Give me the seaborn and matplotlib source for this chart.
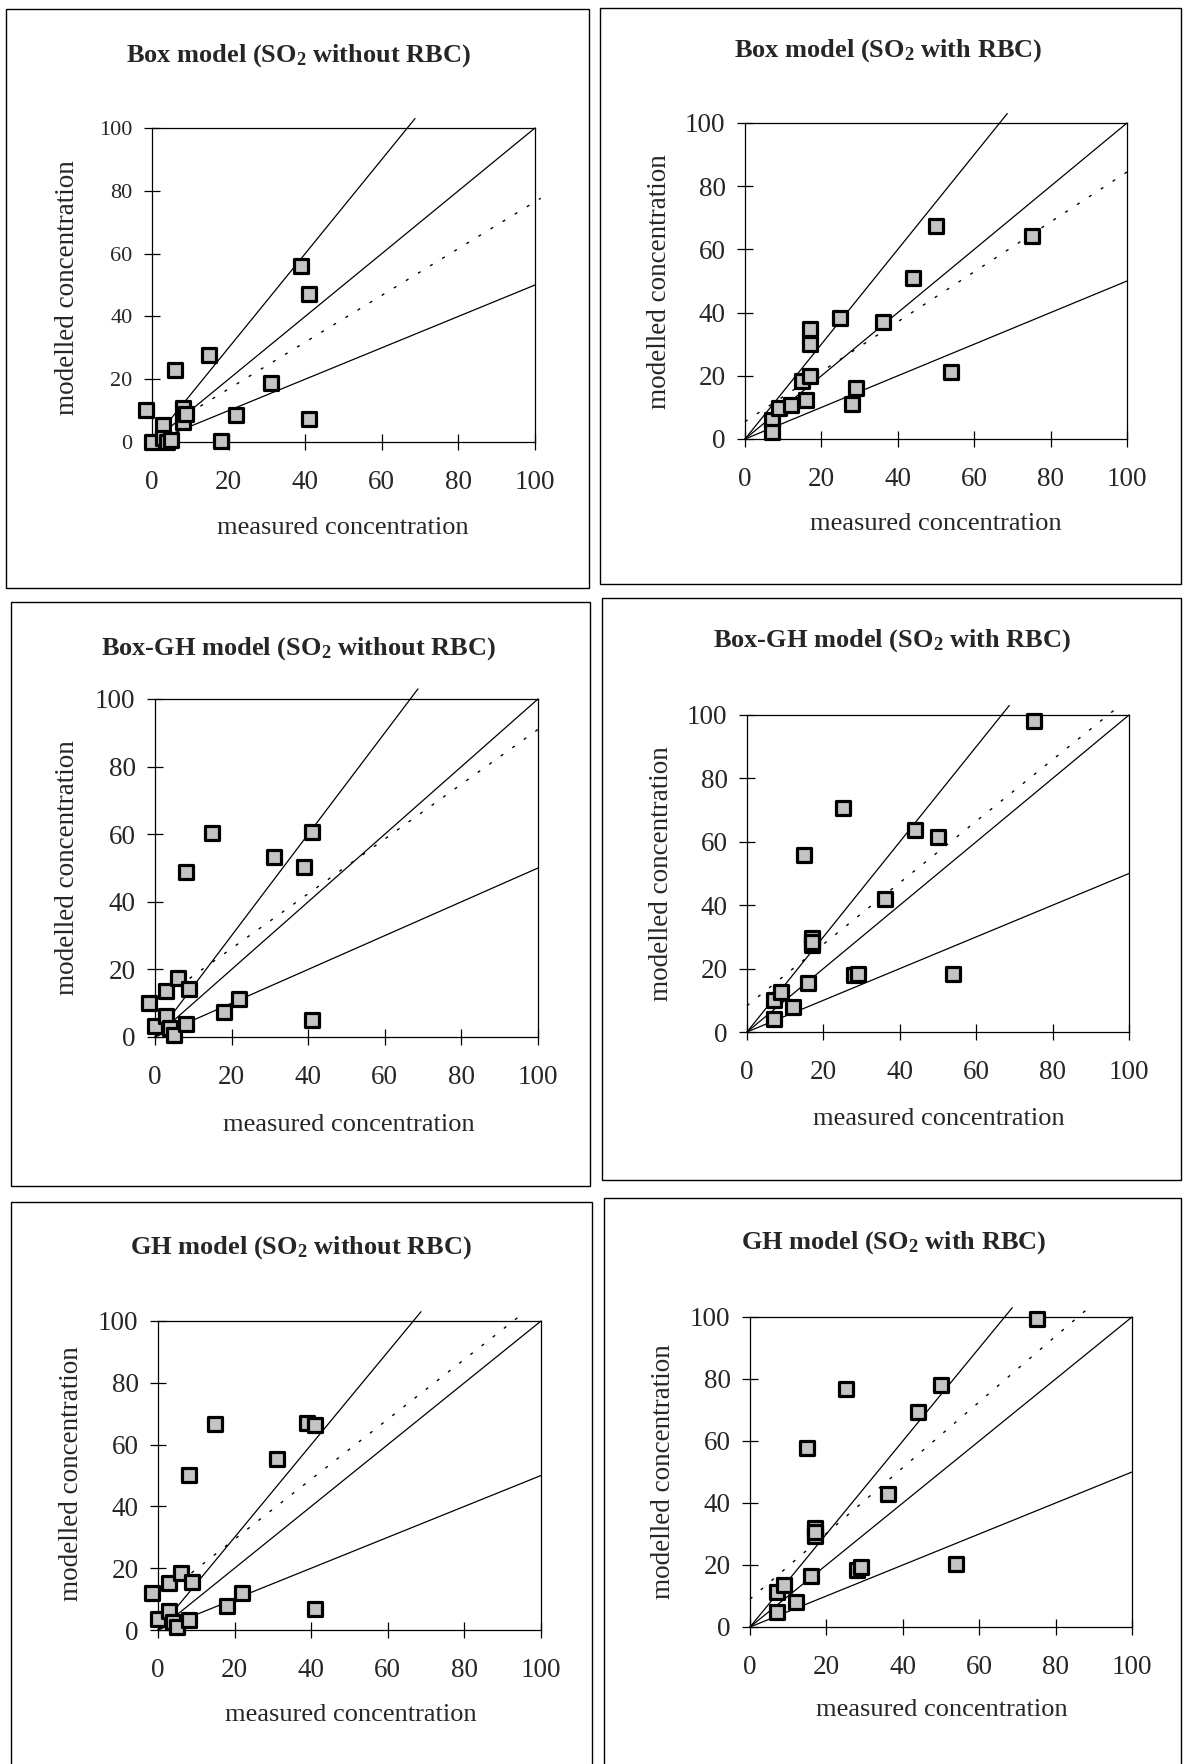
import numpy as np
import pandas as pd
import matplotlib
matplotlib.use("Agg")
import matplotlib.pyplot as plt
import seaborn as sns
from matplotlib.patches import Rectangle

sns.set_theme(style="white")
plt.rcParams["font.family"] = ["Liberation Serif", "DejaVu Serif"]
plt.rcParams["mathtext.fontset"] = "custom"
plt.rcParams["mathtext.rm"] = "Liberation Serif"
plt.rcParams["mathtext.bf"] = "Liberation Serif:bold"
plt.rcParams["mathtext.it"] = "Liberation Serif:italic"

# ---------------- data ----------------
measured_without = [-1.5, 0, 3, 3, 4, 5, 6, 8, 8, 9, 15, 18, 22, 31, 39, 41, 41]
box_without      = [10.1, 0, 5.3, 1.3, 0, 0.5, 22.9, 10.9, 6.4, 9.0, 27.7, 0.2, 8.5, 18.8, 55.9, 47.0, 7.4]
boxgh_without    = [10.2, 3.4, 13.7, 6.3, 2.7, 0.7, 17.6, 48.8, 3.8, 14.2, 60.5, 7.4, 11.3, 53.4, 50.4, 60.6, 4.9]
gh_without       = [12.1, 3.4, 15.1, 6.3, 2.7, 0.9, 18.5, 50.3, 3.2, 15.4, 66.8, 7.8, 11.9, 55.2, 67.0, 66.3, 6.7]

measured_with = [7, 7, 9, 12, 15, 16, 17, 17, 17, 25, 28, 29, 36, 44, 50, 54, 75]
box_with      = [5.9, 2.2, 9.8, 10.9, 18.5, 12.4, 34.9, 30.1, 19.8, 38.3, 11.2, 16.1, 36.9, 50.9, 67.5, 21.1, 64.3]
boxgh_with    = [10.2, 4.2, 12.6, 7.9, 55.8, 15.6, 29.5, 27.4, 28.5, 70.7, 17.9, 18.4, 41.8, 63.7, 61.6, 18.2, 98.1]
gh_with       = [11.3, 5.0, 13.6, 8.0, 57.8, 16.5, 31.9, 29.2, 30.5, 76.9, 18.5, 19.5, 42.9, 69.4, 78.0, 20.4, 99.5]

titles = [
    r"Box model (SO$_\mathbf{2}$ without RBC)",
    r"Box model (SO$_\mathbf{2}$ with RBC)",
    r"Box-GH model (SO$_\mathbf{2}$ without RBC)",
    r"Box-GH model (SO$_\mathbf{2}$ with RBC)",
    r"GH model (SO$_\mathbf{2}$ without RBC)",
    r"GH model (SO$_\mathbf{2}$ with RBC)",
]
reference_slopes = [1.5, 1.0, 0.5]
regression_intercepts = [2.0, 5.5, 10.0, 8.3, 10.0, 9.0]
regression_slopes = [0.745, 0.79, 0.81, 0.97, 0.97, 1.06]
tick_values = [0, 20, 40, 60, 80, 100]
xlabel_text = "measured concentration"
ylabel_text = "modelled concentration"

panels = [
    (measured_without, box_without),
    (measured_with, box_with),
    (measured_without, boxgh_without),
    (measured_with, boxgh_with),
    (measured_without, gh_without),
    (measured_with, gh_with),
]

# ---------------- layout (figure pixels) ----------------
W, H = 1183, 1764
fig = plt.figure(figsize=(W / 100, H / 100), dpi=100)

axes_px = [  # left, right, top, bottom
    (152, 535, 128, 442),
    (745, 1127, 123, 439),
    (155, 538, 699, 1037),
    (747, 1129, 715, 1032),
    (158, 541, 1321, 1630),
    (750, 1132, 1317, 1627),
]
box_px = [  # left, right, top, bottom
    (6, 589, 9, 588),
    (600, 1181, 8, 584),
    (11, 590, 602, 1186),
    (602, 1181, 598, 1180),
    (11, 592, 1202, 1770),
    (604, 1181, 1198, 1770),
]
title_px = [(298, 56), (888, 51), (298, 649), (892, 641), (301, 1248), (894, 1243)]
xlabel_px = [(343, 528), (936, 524), (349, 1125), (939, 1119), (351, 1715), (942, 1710)]
ylabel_px = [(68, 288), (659, 282), (68, 868), (661, 874), (71, 1474), (664, 1472)]
ytick_sizes = [16, 19.5, 19.5, 19.5, 19.5, 19.5]


def fx(x):
    return x / W


def fy(y):
    return 1 - y / H


for i, ((mx, my), (l, r, t, b)) in enumerate(zip(panels, axes_px)):
    bl, br, bt, bb = box_px[i]
    fig.patches.append(Rectangle((fx(bl), fy(bb)), fx(br - bl), (bb - bt) / H,
                                 transform=fig.transFigure, fill=False,
                                 edgecolor="black", linewidth=1.0, zorder=0))

    ax = fig.add_axes([fx(l), fy(b), fx(r - l), (b - t) / H])
    ax.set_facecolor("white")

    # reference lines: factor lines through the origin
    for s in reference_slopes:
        xend = min(100.0, 103.0 / s)
        ref = pd.DataFrame({"x": [0.0, xend], "y": [0.0, s * xend]})
        sns.lineplot(data=ref, x="x", y="y", ax=ax, color="black", linewidth=0.9,
                     estimator=None, sort=False, legend=False)
        ax.lines[-1].set_clip_on(False)

    # regression line (dotted)
    a0, m0 = regression_intercepts[i], regression_slopes[i]
    xend = min(101.5, (103.0 - a0) / m0)
    reg = pd.DataFrame({"x": [0.0, xend], "y": [a0, a0 + m0 * xend]})
    sns.lineplot(data=reg, x="x", y="y", ax=ax, color="black", linewidth=1.0,
                 estimator=None, sort=False, legend=False)
    ln = ax.lines[-1]
    ln.set_linestyle((0, (2.2, 8)))
    ln.set_clip_on(False)

    df = pd.DataFrame({"measured": mx, "modelled": my})
    sns.scatterplot(data=df, x="measured", y="modelled", ax=ax, marker="s", s=105,
                    color="#c4c4c4", edgecolor="black", linewidth=2.3, zorder=5,
                    clip_on=False, legend=False)

    ax.set_xlim(0, 100)
    ax.set_ylim(0, 100)
    ax.set_xticks(tick_values)
    ax.set_yticks(tick_values)
    ax.set_xlabel("")
    ax.set_ylabel("")
    for sp in ax.spines.values():
        sp.set_visible(True)
        sp.set_color("black")
        sp.set_linewidth(0.9)
    ax.tick_params(axis="both", which="major", direction="inout", length=12,
                   width=0.9, color="black", labelsize=19.5, bottom=True, left=True,
                   top=False, right=False)
    ax.tick_params(axis="x", pad=14)
    ax.tick_params(axis="y", pad=8, labelsize=ytick_sizes[i])
    ax.grid(False)

    fig.text(fx(title_px[i][0]), fy(title_px[i][1]), titles[i], ha="center", va="center",
             fontsize=19, fontweight="bold")
    fig.text(fx(xlabel_px[i][0]), fy(xlabel_px[i][1]), xlabel_text, ha="center",
             va="center", fontsize=19)
    fig.text(fx(ylabel_px[i][0]), fy(ylabel_px[i][1]), ylabel_text, ha="center",
             va="center", fontsize=19.5, rotation=90)

fig.savefig("out.png", dpi=100, facecolor="white")
